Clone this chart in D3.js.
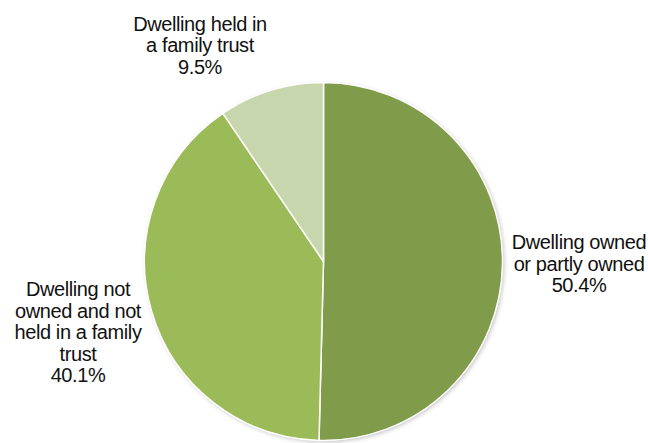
<!DOCTYPE html>
<html>
<head>
<meta charset="utf-8">
<script src="https://cdn.jsdelivr.net/npm/d3@7"></script>
<style>
  body { margin: 0; background: #ffffff; }
  text { font-family: "Liberation Sans", Arial, sans-serif; font-size: 20px; fill: #111; letter-spacing: -0.4px; }
</style>
</head>
<body>
<div id="chart"></div>
<script>
// data
var categories = ["Dwelling owned or partly owned", "Dwelling not owned and not held in a family trust", "Dwelling held in a family trust"];
var values = [50.4, 40.1, 9.5];
var colors = ["#809c4a", "#9bbb59", "#c7d6ac"];

// label lines and where they sit (centre x, first baseline)
var labelLines = [
  ["Dwelling owned", "or partly owned", "50.4%"],
  ["Dwelling not", "owned and not", "held in a family", "trust", "40.1%"],
  ["Dwelling held in", "a family trust", "9.5%"]
];
var labelPos = [[579, 249], [78, 296], [200, 30.5]];

var width = 648, height = 443;
var cx = 323.5, cy = 261.5, radius = 179;

var svg = d3.select("#chart")
  .append("svg")
  .attr("width", width)
  .attr("height", height);

// soft shadow like the office chart
var defs = svg.append("defs");
var filter = defs.append("filter")
  .attr("id", "shadow")
  .attr("x", "-10%").attr("y", "-10%")
  .attr("width", "130%").attr("height", "130%");
filter.append("feDropShadow")
  .attr("dx", 1.5).attr("dy", 1.5)
  .attr("stdDeviation", 2)
  .attr("flood-color", "#000")
  .attr("flood-opacity", 0.25);

var pie = d3.pie().sort(null).value(function(d) { return d; });
var arc = d3.arc().innerRadius(0).outerRadius(radius);

var g = svg.append("g")
  .attr("transform", "translate(" + cx + "," + cy + ")");

g.append("circle")
  .attr("r", radius)
  .attr("fill", "#fff")
  .attr("filter", "url(#shadow)");

g.selectAll("path")
  .data(pie(values))
  .enter()
  .append("path")
    .attr("d", arc)
    .attr("fill", function(d, i) { return colors[i]; })
    .attr("stroke", "#ffffff")
    .attr("stroke-width", 1.5)
    .attr("stroke-linejoin", "round");

// labels
labelLines.forEach(function(lines, i) {
  var t = svg.append("text")
    .attr("text-anchor", "middle")
    .attr("x", labelPos[i][0])
    .attr("y", labelPos[i][1]);
  lines.forEach(function(line, j) {
    t.append("tspan")
      .attr("x", labelPos[i][0])
      .attr("dy", j === 0 ? 0 : 21.6)
      .text(line);
  });
});
</script>
</body>
</html>
